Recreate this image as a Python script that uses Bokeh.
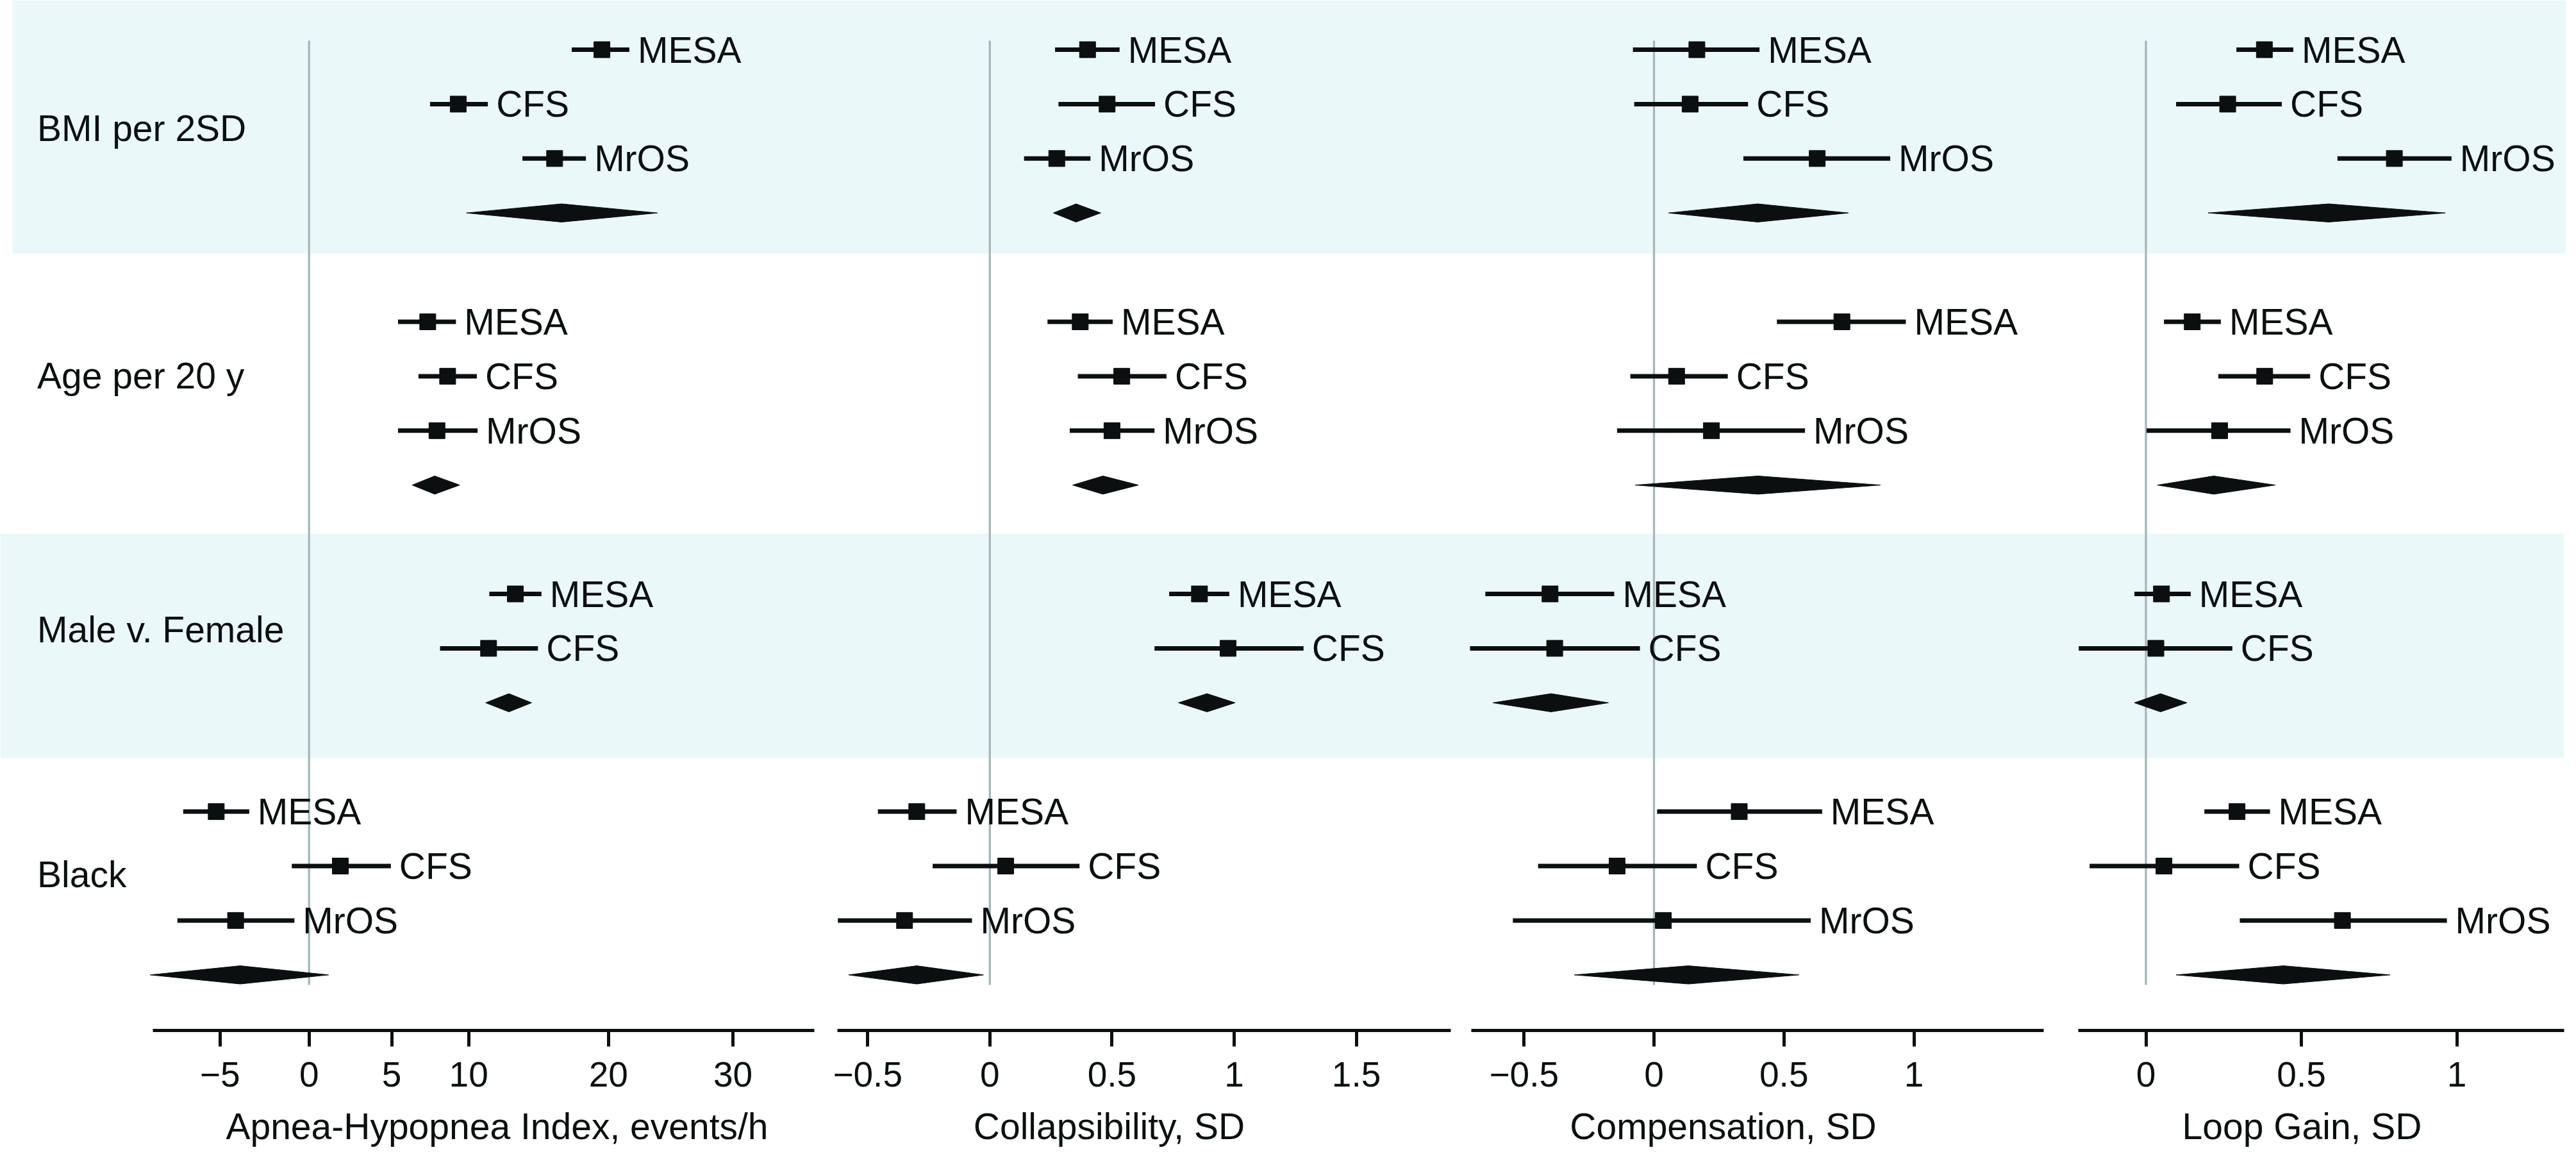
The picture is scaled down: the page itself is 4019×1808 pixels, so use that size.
import numpy as np
from bokeh.plotting import figure
from bokeh.models import ColumnDataSource, Range1d, FixedTicker, BoxAnnotation, LogScale
from bokeh.layouts import column, row
from bokeh.embed import file_html
from bokeh.resources import INLINE
from bokeh.core.properties import value

# ---------------- data ----------------
groups = ["BMI per 2SD", "Age per 20 y", "Male v. Female", "Black"]
group_studies = [["MESA", "CFS", "MrOS"], ["MESA", "CFS", "MrOS"], ["MESA", "CFS"], ["MESA", "CFS", "MrOS"]]

# Apnea-Hypopnea Index, events/h (study rows in group order)
ahi_est = [19.5, 9.3, 16.0, 7.3, 8.6, 7.9, 13.2, 11.35, -5.2, 1.85, -4.15]
ahi_lo = [17.25, 7.45, 13.7, 5.4, 6.7, 5.4, 11.4, 8.1, -6.95, -1.0, -7.25]
ahi_hi = [21.6, 11.3, 18.3, 9.15, 10.55, 10.6, 15.05, 14.8, -3.4, 4.95, -0.85]
ahi_pool_est = [16.5, 7.75, 12.75, -3.9]
ahi_pool_lo = [9.85, 6.3, 11.15, -8.65]
ahi_pool_hi = [23.8, 9.4, 14.35, 1.15]

# Collapsibility, SD
col_est = [0.40, 0.48, 0.274, 0.37, 0.54, 0.50, 0.858, 0.975, -0.299, 0.065, -0.349]
col_lo = [0.267, 0.281, 0.140, 0.236, 0.360, 0.327, 0.734, 0.674, -0.458, -0.234, -0.622]
col_hi = [0.531, 0.676, 0.412, 0.503, 0.723, 0.674, 0.980, 1.284, -0.136, 0.367, -0.073]
col_pool_est = [0.353, 0.463, 0.889, -0.299]
col_pool_lo = [0.260, 0.339, 0.772, -0.578]
col_pool_hi = [0.454, 0.608, 1.004, -0.026]

# Compensation, SD
cmp_est = [0.165, 0.139, 0.628, 0.723, 0.087, 0.221, -0.40, -0.382, 0.328, -0.142, 0.036]
cmp_lo = [-0.081, -0.076, 0.344, 0.473, -0.091, -0.142, -0.649, -0.708, 0.012, -0.446, -0.543]
cmp_hi = [0.406, 0.362, 0.909, 0.969, 0.284, 0.581, -0.153, -0.054, 0.647, 0.165, 0.603]
cmp_pool_est = [0.399, 0.40, -0.396, 0.132]
cmp_pool_lo = [0.056, -0.072, -0.62, -0.307]
cmp_pool_hi = [0.748, 0.871, -0.175, 0.558]

# Loop Gain, SD
lg_est = [0.381, 0.263, 0.799, 0.149, 0.382, 0.237, 0.050, 0.032, 0.293, 0.058, 0.632]
lg_lo = [0.291, 0.097, 0.616, 0.058, 0.233, 0.002, -0.037, -0.216, 0.188, -0.181, 0.302]
lg_hi = [0.474, 0.437, 0.983, 0.241, 0.528, 0.465, 0.144, 0.278, 0.399, 0.30, 0.968]
lg_pool_est = [0.588, 0.218, 0.047, 0.442]
lg_pool_lo = [0.20, 0.037, -0.037, 0.097]
lg_pool_hi = [0.963, 0.416, 0.132, 0.785]

ahi_ticks = [-5, 0, 5, 10, 20, 30]
col_ticks = [-0.5, 0, 0.5, 1, 1.5]
cmp_ticks = [-0.5, 0, 0.5, 1]
lg_ticks = [0, 0.5, 1]

titles = ["Apnea-Hypopnea Index, events/h", "Collapsibility, SD", "Compensation, SD", "Loop Gain, SD"]

# ---------------- layout / style ----------------
FONT = "Liberation Sans"
INK = "#0b0f0f"
BAND = "#EBF8FA"
ZERO = "#A7B6B8"

W = 4003                 # total canvas width
TOP_H = 1600             # height of the main plotting frame
AX_FRAME_H = 7           # thin frame holding each x axis
AX_BORDER = 115          # room for ticks + tick labels
TITLE_H = 70             # strip with the axis titles
TITLE_MID = 1756         # canvas y of the titles' middle

ROW0, ROWH = 77.0, 84.9  # canvas y of first row, row pitch
AHI_SHIFT = 66.0         # offset of the log-type AHI axis


def row_y(py):
    return -(py - ROW0) / ROWH


Y_TOP = row_y(0)
Y_BOT = row_y(TOP_H)

group_start = [0, 5, 10, 14]
study_rows, pool_rows, study_names = [], [], []
for g, studies in enumerate(group_studies):
    for i, s in enumerate(studies):
        study_rows.append(-(group_start[g] + i))
        study_names.append(s)
    pool_rows.append(-(group_start[g] + len(studies)))

label_rows = [row_y(199), row_y(585), row_y(981), row_y(1363)]


def fmt(t):
    s = "%g" % abs(t)
    return ("\u2212" + s) if t < 0 else s


panels = [
    dict(name="ahi", kind="log", zero=481.7, ppu=1765.0, frame=(0, 1288), bounds=(238, 1270), title_px=775,
         est=ahi_est, lo=ahi_lo, hi=ahi_hi, pe=ahi_pool_est, pl=ahi_pool_lo, ph=ahi_pool_hi, ticks=ahi_ticks),
    dict(name="col", kind="lin", zero=1543.8, ppu=381.2, frame=(1288, 2279), bounds=(1306, 2263), title_px=1730,
         est=col_est, lo=col_lo, hi=col_hi, pe=col_pool_est, pl=col_pool_lo, ph=col_pool_hi, ticks=col_ticks),
    dict(name="cmp", kind="lin", zero=2580.0, ppu=405.5, frame=(2279, 3215), bounds=(2295, 3188), title_px=2688,
         est=cmp_est, lo=cmp_lo, hi=cmp_hi, pe=cmp_pool_est, pl=cmp_pool_lo, ph=cmp_pool_hi, ticks=cmp_ticks),
    dict(name="lg", kind="lin", zero=3347.5, ppu=485.1, frame=(3215, W), bounds=(3242, 4000), title_px=3591,
         est=lg_est, lo=lg_lo, hi=lg_hi, pe=lg_pool_est, pl=lg_pool_lo, ph=lg_pool_hi, ticks=lg_ticks),
]


def mappers(sp):
    if sp["kind"] == "log":
        to_data = lambda px: float(AHI_SHIFT * np.exp((px - sp["zero"]) / sp["ppu"]))
        tx = lambda v: np.asarray(v, dtype=float) + AHI_SHIFT
    else:
        to_data = lambda px: float((px - sp["zero"]) / sp["ppu"])
        tx = lambda v: np.asarray(v, dtype=float)
    return to_data, tx


common = dict(output_backend="svg", toolbar_location=None, outline_line_color=None,
              background_fill_color="white", border_fill_color="white")

# ---------- main plotting area (one frame, four x ranges) ----------
top = figure(frame_width=W, frame_height=TOP_H, x_range=Range1d(0, W), y_range=Range1d(Y_BOT, Y_TOP),
             x_axis_location=None, y_axis_location=None, min_border=0, **common)
top.grid.visible = False

top.add_layout(BoxAnnotation(top=None, bottom=row_y(395), left=19, right=None, fill_color=BAND,
                             fill_alpha=1, line_color=None, level="underlay"))
top.add_layout(BoxAnnotation(top=row_y(832), bottom=row_y(1181.7), left=None, right=4000, fill_color=BAND,
                             fill_alpha=1, line_color=None, level="underlay"))

extra_ranges, extra_scales = {}, {}
for sp in panels:
    to_data, tx = mappers(sp)
    extra_ranges[sp["name"]] = Range1d(to_data(0), to_data(W))
    if sp["kind"] == "log":
        extra_scales[sp["name"]] = LogScale()
top.extra_x_ranges = extra_ranges
top.extra_x_scales = extra_scales

hh = 14.2 / ROWH
for sp in panels:
    to_data, tx = mappers(sp)
    rn = sp["name"]
    z = float(tx(0))
    top.segment(x0=[z], x1=[z], y0=[row_y(63)], y1=[row_y(1536)], line_color=ZERO, line_width=3.3,
                x_range_name=rn)
    src = ColumnDataSource(dict(est=tx(sp["est"]), lo=tx(sp["lo"]), hi=tx(sp["hi"]),
                                y=study_rows, name=study_names))
    top.segment(x0="lo", x1="hi", y0="y", y1="y", source=src, line_color=INK, line_width=7, x_range_name=rn)
    top.scatter(x="est", y="y", source=src, marker="square", size=25, fill_color=INK, line_color=INK,
                x_range_name=rn)
    top.text(x="hi", y="y", text="name", source=src, x_offset=13, text_baseline="middle",
             text_align="left", text_font=value(FONT), text_font_size="57px", text_color=INK,
             x_range_name=rn)
    pe, pl, ph = tx(sp["pe"]), tx(sp["pl"]), tx(sp["ph"])
    xs = [[pl[i], pe[i], ph[i], pe[i]] for i in range(len(pe))]
    ys = [[pool_rows[i], pool_rows[i] + hh, pool_rows[i], pool_rows[i] - hh] for i in range(len(pe))]
    top.patches(xs=xs, ys=ys, fill_color=INK, line_color=INK, line_width=1, x_range_name=rn)

top.text(x=[57.5] * len(groups), y=label_rows, text=groups, text_baseline="middle", text_align="left",
         text_font=value(FONT), text_font_size="57px", text_color=INK)

# ---------- axes (one thin figure per panel) ----------
axis_figs = []
for sp in panels:
    to_data, tx = mappers(sp)
    L, R = sp["frame"]
    p = figure(frame_width=R - L, frame_height=AX_FRAME_H,
               x_axis_type="log" if sp["kind"] == "log" else "linear",
               x_range=Range1d(to_data(L), to_data(R)), y_range=Range1d(0, 1),
               y_axis_location=None, min_border_left=0, min_border_right=0, min_border_top=0,
               min_border_bottom=AX_BORDER, **common)
    p.grid.visible = False
    ax = p.xaxis[0]
    tick_data = [float(tx(t)) for t in sp["ticks"]]
    ax.ticker = FixedTicker(ticks=tick_data, minor_ticks=[])
    ax.major_label_overrides = {td: fmt(t) for td, t in zip(tick_data, sp["ticks"])}
    ax.bounds = (to_data(sp["bounds"][0]), to_data(sp["bounds"][1]))
    ax.axis_line_width = 5
    ax.axis_line_color = INK
    ax.major_tick_line_width = 5
    ax.major_tick_line_color = INK
    ax.major_tick_out = 25
    ax.major_tick_in = 0
    ax.minor_tick_line_color = None
    ax.major_label_text_font = FONT
    ax.major_label_text_font_size = "55px"
    ax.major_label_text_color = INK
    ax.major_label_standoff = 24
    axis_figs.append(p)

# ---------- axis titles ----------
y_title_top = TOP_H + AX_FRAME_H + AX_BORDER
tfig = figure(frame_width=W, frame_height=TITLE_H, x_range=Range1d(0, W),
              y_range=Range1d(y_title_top + TITLE_H, y_title_top),
              x_axis_location=None, y_axis_location=None, min_border=0, **common)
tfig.grid.visible = False
tfig.text(x=[sp["title_px"] for sp in panels], y=[TITLE_MID] * len(panels), text=titles,
          text_align="center", text_baseline="middle", text_font=value(FONT),
          text_font_size="57px", text_color=INK)

layout = column(top, row(*axis_figs), tfig)
open("out.html", "w").write(file_html(layout, INLINE))
